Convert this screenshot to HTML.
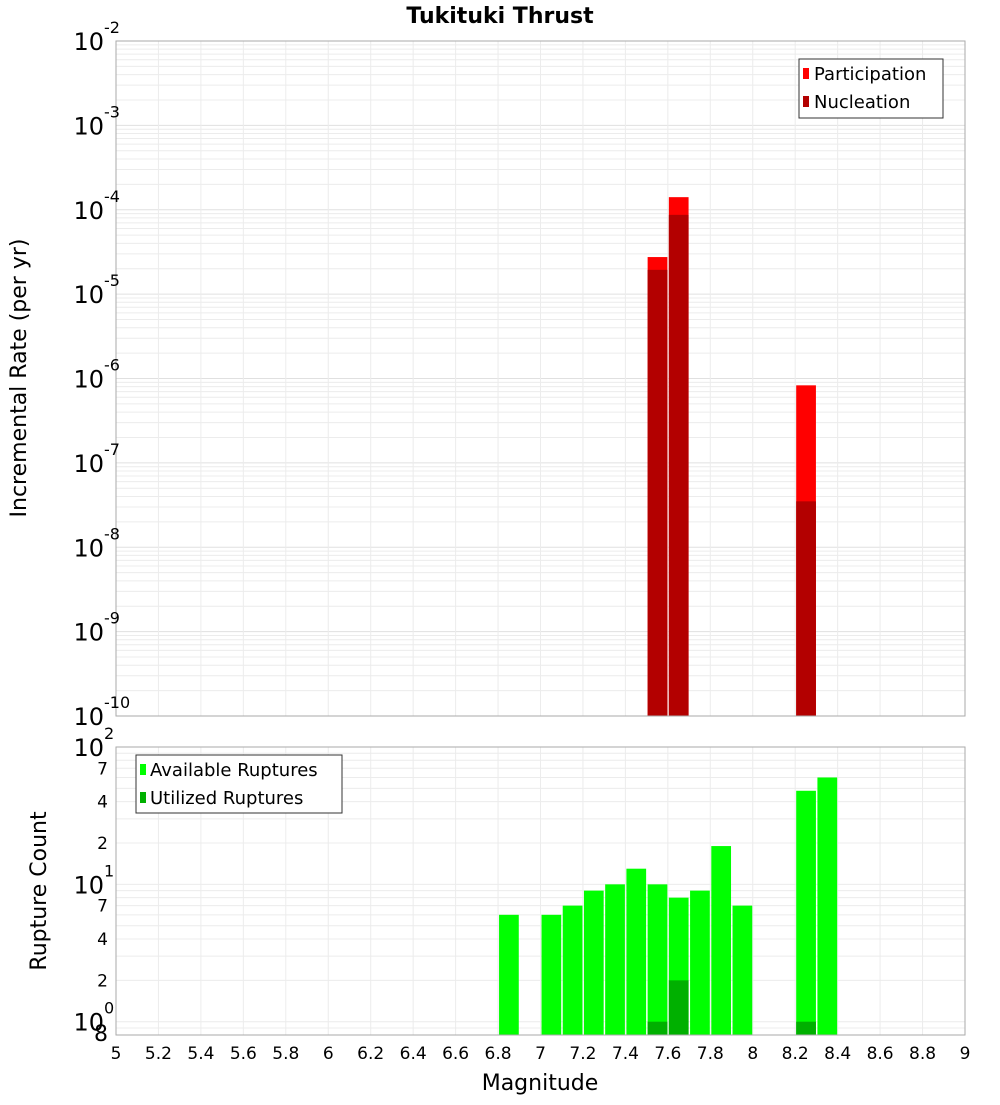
<!DOCTYPE html>
<html><head><meta charset="utf-8"><style>
body{margin:0;background:#fff}
svg text{font-family:"DejaVu Sans","Liberation Sans",sans-serif}
</style></head><body>
<svg id="c" width="1000" height="1100" xmlns="http://www.w3.org/2000/svg">
<text x="500" y="23" text-anchor="middle" font-size="22" font-weight="bold">Tukituki Thrust</text>
<g id="gtop"></g>
<g id="gbot"></g>
<text transform="translate(26,378) rotate(-90)" text-anchor="middle" font-size="22">Incremental Rate (per yr)</text>
<text transform="translate(46,891) rotate(-90)" text-anchor="middle" font-size="22">Rupture Count</text>
<text x="540" y="1090" text-anchor="middle" font-size="22">Magnitude</text>
<g>
<rect x="799" y="59" width="144" height="59" fill="#fff" stroke="#333"/>
<rect x="803" y="68" width="6" height="11" fill="#ff0000"/>
<text x="814" y="80" font-size="18">Participation</text>
<rect x="803" y="96" width="6" height="11" fill="#b30000"/>
<text x="814" y="108" font-size="18">Nucleation</text>
</g>
<g>
<rect x="136" y="755" width="206" height="58" fill="#fff" stroke="#333"/>
<rect x="140" y="764" width="6" height="11" fill="#00ff00"/>
<text x="150" y="776" font-size="18">Available Ruptures</text>
<rect x="140" y="792" width="6" height="11" fill="#00b000"/>
<text x="150" y="804" font-size="18">Utilized Ruptures</text>
</g>
</svg>
<script>
const rateMags=[7.55,7.65,8.25];
const participation=[2.75e-5,1.41e-4,8.3e-7];
const nucleation=[1.94e-5,8.7e-5,3.5e-8];
const countMags=[6.85,7.05,7.15,7.25,7.35,7.45,7.55,7.65,7.75,7.85,7.95,8.25,8.35];
const available=[6,6,7,9,10,13,10,8,9,19,7,48,60];
const utilizedMags=[7.55,7.65,8.25];
const utilized=[1,2,1];
const xTicks=["5","5.2","5.4","5.6","5.8","6","6.2","6.4","6.6","6.8","7","7.2","7.4","7.6","7.8","8","8.2","8.4","8.6","8.8","9"];

const NS="http://www.w3.org/2000/svg";
const svgEl=document.getElementById('c');
function mk(tag,at,parent){const e=document.createElementNS(NS,tag);for(const k in at)e.setAttribute(k,at[k]);(parent||svgEl).appendChild(e);return e;}
const X0=116,X1=965;
const xs=m=>X0+(m-5)/4*(X1-X0);
const T0=41,T1=716;
const yt=v=>T0+(-2-Math.log10(v))/8*(T1-T0);
const B0=747,B1=1035;
const yb=v=>B0+(2-Math.log10(v))/Math.log10(125)*(B1-B0);
const gTop=document.getElementById('gtop'),gBot=document.getElementById('gbot');
for(let d=-10;d<-2;d++)for(let k=1;k<10;k++){const y=yt(k*Math.pow(10,d));mk('line',{x1:X0,x2:X1,y1:y,y2:y,stroke:k==1?'#e0e0e0':'#ececec','stroke-width':1},gTop);}
[0.8,0.9,1,2,3,4,5,6,7,8,9,10,20,30,40,50,60,70,80,90].forEach(v=>{const y=yb(v);mk('line',{x1:X0,x2:X1,y1:y,y2:y,stroke:'#ececec'},gBot);});
xTicks.forEach((t,i)=>{const x=xs(+t);mk('line',{x1:x,x2:x,y1:T0,y2:T1,stroke:'#ececec'},gTop);mk('line',{x1:x,x2:x,y1:B0,y2:B1,stroke:'#ececec'},gBot);
 const tx=mk('text',{x:x,y:1059,'text-anchor':'middle','font-size':17});tx.textContent=t;
 
 });
const bw=(X1-X0)/40;
rateMags.forEach((m,i)=>{const x=xs(m-0.05)+1;
 const r=mk('rect',{x:x,y:yt(participation[i]),width:bw-1.5,height:T1-yt(participation[i]),fill:'#ff0000'},gTop);
 
 
 const n=mk('rect',{x:x,y:yt(nucleation[i]),width:bw-1.5,height:T1-yt(nucleation[i]),fill:'#b30000'},gTop);
 
 });
countMags.forEach((m,i)=>{const x=xs(m-0.05)+1;
 const r=mk('rect',{x:x,y:yb(available[i]),width:bw-1.5,height:B1-yb(available[i]),fill:'#00ff00'},gBot);
 
 });
utilizedMags.forEach((m,i)=>{const x=xs(m-0.05)+1;
 const r=mk('rect',{x:x,y:yb(utilized[i]),width:bw-1.5,height:B1-yb(utilized[i]),fill:'#00b000'},gBot);
 
 });
mk('rect',{x:X0,y:T0,width:X1-X0,height:T1-T0,fill:'none',stroke:'#aaa'});
mk('rect',{x:X0,y:B0,width:X1-X0,height:B1-B0,fill:'none',stroke:'#aaa'});
function pow(y,exp){const t=mk('text',{x:104,y:y+9,'text-anchor':'end','font-size':24});t.textContent='10';
 
 
 const s=mk('text',{x:104,y:y-8,'font-size':16});s.textContent=exp;
 
 }
for(let d=-2;d>=-10;d--)pow(yt(Math.pow(10,d)),String(d));
pow(yb(100),'2');pow(yb(10),'1');pow(yb(1),'0');
[[2,'2'],[4,'4'],[7,'7'],[20,'2'],[40,'4'],[70,'7'],[0.8,'8']].forEach(p=>{const t=mk('text',{x:108,y:yb(p[0])+6,'text-anchor':'end','font-size':p[0]==0.8?22:17});t.textContent=p[1];
 
 });
</script>
</body></html>
